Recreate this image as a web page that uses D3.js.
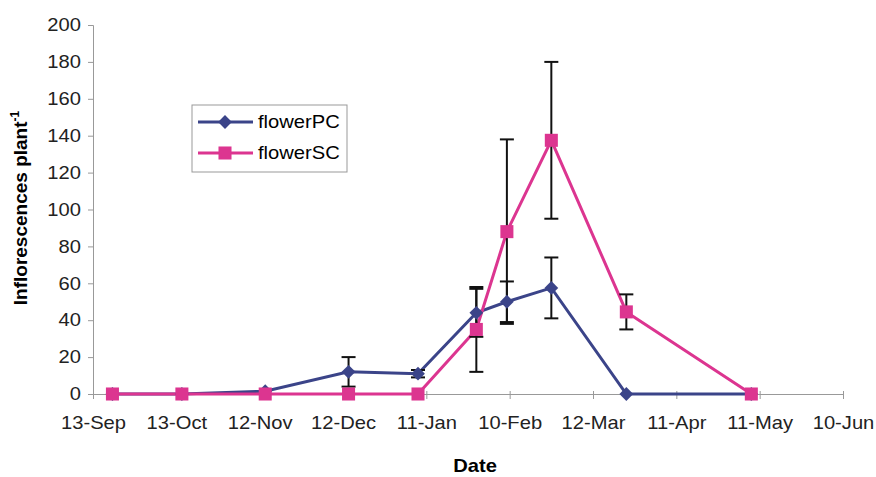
<!DOCTYPE html>
<html>
<head>
<meta charset="utf-8">
<script src="https://cdn.jsdelivr.net/npm/d3@7"></script>
<style>
  body { margin: 0; background: #fff; }
  text { font-family: "Liberation Sans", Arial, sans-serif; }
</style>
</head>
<body>
<svg id="chart" width="876" height="477"></svg>
<script>
// sampling dates and the two series (mean, +/- error)
var dates = ["2000-09-20", "2000-10-15", "2000-11-14", "2000-12-14", "2001-01-08",
             "2001-01-29", "2001-02-09", "2001-02-25", "2001-03-24", "2001-05-08"];
var flowerPC = [0, 0, 1.5, 12, 11, 44, 50, 57.5, 0, 0];
var errPC    = [0, 0, 0, 8, 2, 13, 11, 16.5, 0, 0];
var flowerSC = [0, 0, 0, 0, 0, 35, 88, 137.5, 44.5, 0];
var errSC    = [0, 0, 0, 0, 0, 23, 50, 42.5, 9.5, 0];

var tickDates = ["2000-09-13", "2000-10-13", "2000-11-12", "2000-12-12", "2001-01-11",
                 "2001-02-10", "2001-03-12", "2001-04-11", "2001-05-11", "2001-06-10"];
var yTicks = [0, 20, 40, 60, 80, 100, 120, 140, 160, 180, 200];

var navy = "#3b4489", pink = "#dc3590";
var parse = d3.timeParse("%Y-%m-%d");
var fmt = d3.timeFormat("%-d-%b");
var stretch = 1.12; // reference text is a little wide

var svg = d3.select("#chart");
var mLeft = 93, mRight = 843, mTop = 25, mBottom = 394;

var x = d3.scaleTime()
  .domain([parse(tickDates[0]), parse(tickDates[tickDates.length - 1])])
  .range([mLeft, mRight]);
var y = d3.scaleLinear().domain([0, 200]).range([mBottom, mTop]);

// y axis
var yAxis = svg.append("g")
  .attr("transform", "translate(" + mLeft + ",0)")
  .call(d3.axisLeft(y).tickValues(yTicks).tickSize(5));
yAxis.select(".domain").attr("stroke", "#999");
yAxis.selectAll(".tick line").attr("stroke", "#999");
yAxis.selectAll(".tick text").attr("font-size", 18).attr("fill", "#222")
  .attr("x", -12 / stretch).attr("transform", "scale(" + stretch + ",1)");

// x axis
var xAxis = svg.append("g")
  .attr("transform", "translate(0," + mBottom + ")")
  .call(d3.axisBottom(x).tickValues(tickDates.map(parse)).tickFormat(fmt).tickSize(5).tickPadding(17));
xAxis.select(".domain").attr("stroke", "#999");
xAxis.selectAll(".tick line").attr("stroke", "#999").attr("y1", -3);
xAxis.selectAll(".tick text").attr("font-size", 18).attr("fill", "#222")
  .attr("transform", "scale(" + stretch + ",1)");

// axis titles
svg.append("text")
  .attr("transform", "translate(475,472) scale(1.12,1)")
  .attr("text-anchor", "middle")
  .attr("font-size", 18).attr("font-weight", "bold")
  .text("Date");

var yt = svg.append("text")
  .attr("transform", "translate(27,208) rotate(-90)")
  .attr("text-anchor", "middle")
  .attr("font-size", 19).attr("font-weight", "bold");
yt.append("tspan").text("Inflorescences plant");
yt.append("tspan").attr("font-size", 12).attr("dy", -8).text("-1");

function rows(vals, errs) {
  return dates.map(function(d, i) { return { date: parse(d), v: vals[i], e: errs[i] }; });
}
var series = [
  { name: "flowerPC", color: navy, rows: rows(flowerPC, errPC), shape: "diamond" },
  { name: "flowerSC", color: pink, rows: rows(flowerSC, errSC), shape: "square" }
];

var line = d3.line().x(function(d) { return x(d.date); }).y(function(d) { return y(d.v); });

// lines
series.forEach(function(s) {
  svg.append("path").datum(s.rows)
    .attr("fill", "none").attr("stroke", s.color).attr("stroke-width", 3)
    .attr("d", line);
});

// error bars
series.forEach(function(s) {
  var eb = svg.append("g").attr("stroke", "#111").attr("stroke-width", 2);
  s.rows.filter(function(d) { return d.e > 0; }).forEach(function(d) {
    var cx = x(d.date);
    eb.append("line").attr("x1", cx).attr("x2", cx).attr("y1", y(d.v + d.e)).attr("y2", y(Math.max(0, d.v - d.e)));
    eb.append("line").attr("x1", cx - 7).attr("x2", cx + 7).attr("y1", y(d.v + d.e)).attr("y2", y(d.v + d.e));
    if (d.v - d.e > 0)
      eb.append("line").attr("x1", cx - 7).attr("x2", cx + 7).attr("y1", y(d.v - d.e)).attr("y2", y(d.v - d.e));
  });
});

var diamondPath = d3.symbol().type(d3.symbolSquare).size(95)();
var squarePath = d3.symbol().type(d3.symbolSquare).size(170)();

function markerTransform(s, cx, cy) {
  return "translate(" + cx + "," + cy + ")" + (s.shape === "diamond" ? " rotate(45)" : "");
}

// markers
series.forEach(function(s) {
  svg.append("g").selectAll("path").data(s.rows).join("path")
    .attr("transform", function(d) { return markerTransform(s, x(d.date), y(d.v)); })
    .attr("d", s.shape === "diamond" ? diamondPath : squarePath)
    .attr("fill", s.color);
});

// legend
var lg = svg.append("g");
lg.append("rect").attr("x", 192).attr("y", 105).attr("width", 155).attr("height", 67)
  .attr("fill", "#fff").attr("stroke", "#999").attr("stroke-width", 1);
series.forEach(function(s, i) {
  var cy = 122 + i * 31;
  lg.append("line").attr("x1", 198).attr("x2", 253).attr("y1", cy).attr("y2", cy)
    .attr("stroke", s.color).attr("stroke-width", 3);
  lg.append("path")
    .attr("transform", markerTransform(s, 225, cy))
    .attr("d", s.shape === "diamond" ? diamondPath : squarePath)
    .attr("fill", s.color);
  lg.append("text").attr("font-size", 18)
    .attr("transform", "translate(258," + (cy + 6) + ") scale(" + stretch + ",1)")
    .text(s.name);
});
</script>
</body>
</html>
